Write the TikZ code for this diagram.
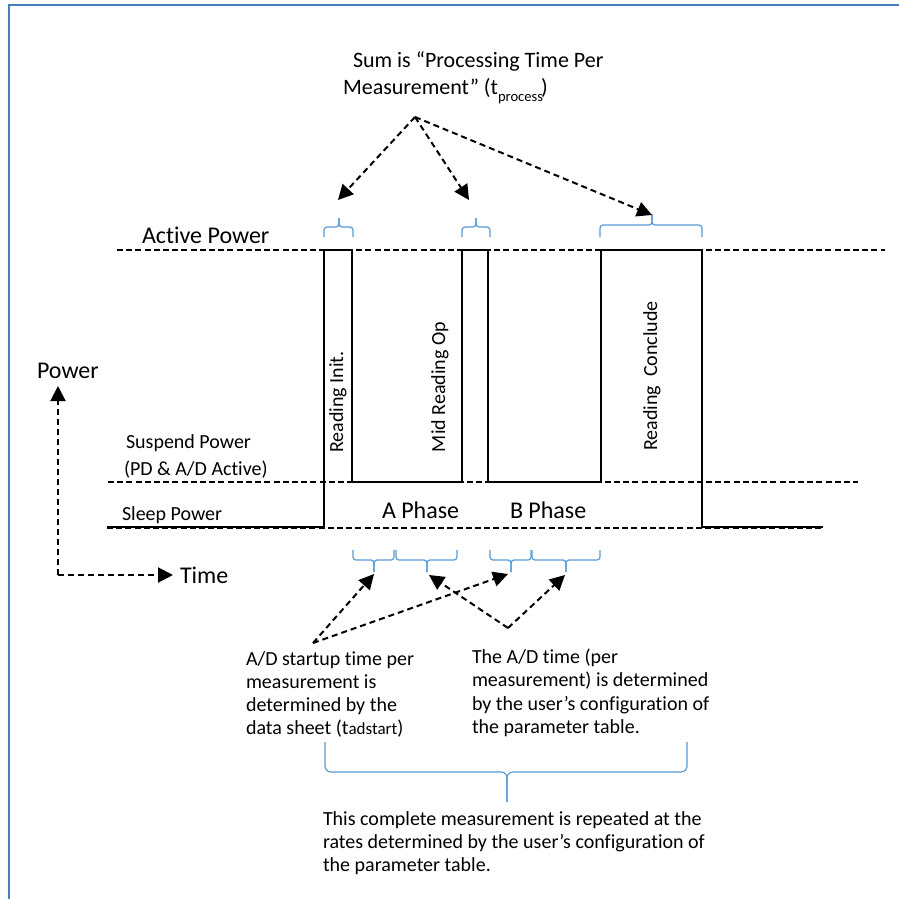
\documentclass[tikz,border=0pt]{standalone}
\usepackage{fontspec}
\setmainfont[Ligatures={NoCommon}]{Carlito}
\usetikzlibrary{arrows.meta}
\definecolor{frameblue}{HTML}{4A7EBB}
\definecolor{braceblue}{HTML}{5B9BD5}
\newcommand\setfs[1]{\fontsize{#1}{#1}\selectfont}
\newcommand\mybrace[7]{%
  \draw[bracestyle, rounded corners=#7] (#1,#4) -- (#1,#5) -- (#3,#5) -- (#3,#6);
  \draw[bracestyle, rounded corners=#7] (#2,#4) -- (#2,#5) -- (#3,#5) -- (#3,#6);}
\tikzset{
  levelline/.style={line width=1pt, dash pattern=on 3pt off 1.6pt},
  wave/.style={line width=1.2pt, line join=miter},
  callout/.style={line width=1pt, dash pattern=on 3pt off 2pt, -{Triangle[length=7.5pt,width=7.5pt]}},
  bracestyle/.style={braceblue, line width=0.6pt},
  lbl/.style={inner sep=0pt, outer sep=0pt, anchor=base west},
  vlbl/.style={inner sep=0pt, rotate=90, font=\setfs{10}},
}
\begin{document}
\begin{tikzpicture}[x=0.5pt, y=-0.5pt]
\useasboundingbox (0,0) rectangle (899,899);
\fill[white] (0,0) rectangle (899,899);
\draw[frameblue, line width=1.2pt] (9,899) -- (9,5) -- (899,5);

% top title
\node[lbl, font=\setfs{11}] (title1) at (353,68) {Sum is “Processing Time Per};
\node[lbl, font=\setfs{11}] (title2) at (343,95) {Measurement” (t\raisebox{-3.5pt}{\setfs{7.3}process}\kern-1pt)};

% level lines
\coordinate (actL) at (117,250); \coordinate (actR) at (885,250);
\coordinate (susL) at (108,482); \coordinate (susR) at (858,482);
\coordinate (slpL) at (107,528); \coordinate (slpR) at (823,528);
\draw[levelline] (actL) -- (actR);
\draw[levelline] (susL) -- (susR);
\draw[levelline] (slpL) -- (slpR);

% waveform
\draw[wave] (107,527) -- (324,527) -- (324,250) -- (352,250) -- (352,482)
  -- (462,482) -- (462,250) -- (488,250) -- (488,482) -- (601,482)
  -- (601,250) -- (702,250) -- (702,527) -- (823,527);

% labels
\node[lbl, font=\setfs{12}] (active) at (142,243) {Active Power};
\node[lbl, font=\setfs{10}] (susp1) at (126,448) {Suspend Power};
\node[lbl, font=\setfs{10}] (susp2) at (124,475) {(PD \& A/D Active)};
\node[lbl, font=\setfs{10}] (sleep) at (122,520) {Sleep Power};
\node[lbl, font=\setfs{12}] (aphase) at (382,518) {A Phase};
\node[lbl, font=\setfs{12}] (bphase) at (510,518) {B Phase};
\node[vlbl] (rinit) at (338,402) {Reading Init.};
\node[vlbl] (rmid) at (440,387) {Mid Reading Op};
\node[vlbl] (rconc) at (652,376) {Reading~~Conclude};

% axes
\node[lbl, font=\setfs{12}] (powlbl) at (37,378) {Power};
\node[lbl, font=\setfs{12}] (timelbl) at (180,583) {Time};
\coordinate (origin) at (58,575);
\coordinate (powtip) at (58,386);
\coordinate (timetip) at (173,575);
\draw[callout] (origin) -- (powtip);
\draw[callout] (origin) -- (timetip);

% top braces
\mybrace{324}{353}{339}{237}{227}{218}{1.5pt}
\mybrace{462}{490}{476}{237}{227}{218}{1.5pt}
\mybrace{600}{702}{652}{237}{225}{214}{1.5pt}

% top callouts
\coordinate (topapex) at (415,117);
\coordinate (tip1) at (338,200);
\coordinate (tip2) at (469,200);
\coordinate (tip3) at (652,215);
\draw[callout] (topapex) -- (tip1);
\draw[callout] (topapex) -- (tip2);
\draw[callout] (topapex) -- (tip3);

% bottom braces
\mybrace{353}{394}{374}{550}{560}{572}{1.5pt}
\mybrace{396}{457}{427}{550}{560}{572}{1.5pt}
\mybrace{490}{531}{511}{550}{560}{572}{1.5pt}
\mybrace{532}{600}{566}{550}{560}{572}{1.5pt}

% bottom callouts
\coordinate (apexL) at (313,643);
\coordinate (apexR) at (508,628);
\coordinate (btip1) at (374,574);
\coordinate (btip2) at (429,575);
\coordinate (btip3) at (508,574);
\coordinate (btip4) at (565,575);
\draw[callout] (apexL) -- (btip1);
\draw[callout] (apexL) -- (btip3);
\draw[callout] (apexR) -- (btip2);
\draw[callout] (apexR) -- (btip4);

% bottom texts
\node[lbl, font=\setfs{10}] (la) at (246,665) {A/D startup time per};
\node[lbl, font=\setfs{10}] (lb) at (246,688) {measurement is};
\node[lbl, font=\setfs{10}] (lc) at (246,711) {determined by the};
\node[lbl, font=\setfs{10}] (ld) at (246,734) {data sheet (t{\setfs{8.5}adstart})};
\node[lbl, font=\setfs{10}] (ra) at (472,663) {The A/D time (per};
\node[lbl, font=\setfs{10}] (rb) at (472,686) {measurement) is determined};
\node[lbl, font=\setfs{10}] (rc) at (472,710) {by the user’s configuration of};
\node[lbl, font=\setfs{10}] (rd) at (472,733) {the parameter table.};

% big brace
\mybrace{325}{687}{507}{742}{772}{802}{3pt}

\node[lbl, font=\setfs{10}] (ba) at (323,825) {This complete measurement is repeated at the};
\node[lbl, font=\setfs{10}] (bb) at (323,848) {rates determined by the user’s configuration of};
\node[lbl, font=\setfs{10}] (bc) at (323,871) {the parameter table.};
\end{tikzpicture}
\end{document}
